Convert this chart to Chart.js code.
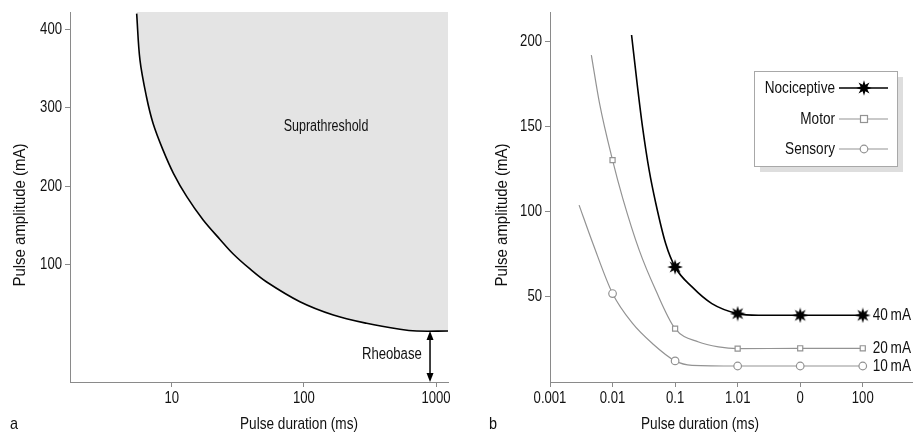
<!DOCTYPE html>
<html><head><meta charset="utf-8">
<script src="https://cdn.jsdelivr.net/npm/chart.js@4.4.1/dist/chart.umd.min.js"></script>
<style>
html,body{margin:0;padding:0;background:#fff;}
#wrap{position:relative;width:918px;height:436px;overflow:hidden;}
#ca{position:absolute;left:0;top:0;}
#cb{position:absolute;left:459px;top:0;}
</style></head><body>
<div id="wrap"><canvas id="ca" width="459" height="436"></canvas><canvas id="cb" width="459" height="436"></canvas></div>
<script>
// ---------- Panel a data ----------
const aDurations  = [5.43, 5.75, 6.44, 7.23, 8.60, 10.3, 13.0, 17.3, 23.2, 29.2, 39.1, 52.3, 93.3, 167, 298, 533, 713, 1236];
const aAmplitudes = [420, 361, 314, 280, 246, 216.5, 186.7, 157, 132.2, 113.7, 94.6, 78.0, 52.9, 36, 25.4, 17.7, 15.5, 15.5];
const aXTicks = [10, 100, 1000];
const aYTicks = [100, 200, 300, 400];
const aRheobaseX = 900;
const aRheobaseY = 15.5;

// ---------- Panel b data ----------
const bXLabels = ['0.001', '0.01', '0.1', '1.01', '0', '100'];
const bYTicks = [50, 100, 150, 200];
const seriesNames = ['Nociceptive', 'Motor', 'Sensory'];
const seriesEndLabels = ['40\u2009mA', '20\u2009mA', '10\u2009mA'];
const nociX = [1.304, 1.399, 1.479, 1.585, 1.691, 1.849, 2, 2.271, 2.588, 3, 3.33, 4, 5];
const nociY = [204, 173.5, 150, 124.5, 105.1, 81.4, 67.6, 55.9, 46.1, 40.2, 39.2, 39.2, 39.2];
const motorX = [0.661, 0.792, 1, 1.162, 1.426, 1.691, 2, 2.377, 2.694, 3, 4, 5];
const motorY = [192.2, 163.8, 130.4, 108.1, 77.5, 53.9, 31.4, 23.5, 20.6, 19.6, 19.8, 19.8];
const sensX = [0.465, 0.686, 1, 1.32, 1.637, 2, 2.271, 3, 4, 5];
const sensY = [104, 81.4, 52, 34.4, 22.6, 12.4, 9.8, 9.4, 9.4, 9.4];

const FONT = "'Liberation Sans', Arial, sans-serif";
const TXT = '#111';
const AXIS = '#8a8a8a';
const GRAY = '#939393';

function pts(xs, ys){ return xs.map((x,i)=>({x:x, y:ys[i]})); }

// narrow text helper (condensed Helvetica look)
function txt(ctx, s, x, y, size, align, sx){
  ctx.save();
  ctx.translate(x, y); ctx.scale(sx || 0.8, 1);
  ctx.font = size + 'px ' + FONT;
  ctx.fillStyle = TXT; ctx.textAlign = align || 'center'; ctx.textBaseline = 'middle';
  ctx.fillText(s, 0, 0);
  ctx.restore();
}
function vtxt(ctx, s, x, y, size, sx){
  ctx.save();
  ctx.translate(x, y); ctx.rotate(-Math.PI/2); ctx.scale(sx || 0.8, 1);
  ctx.font = size + 'px ' + FONT;
  ctx.fillStyle = TXT; ctx.textAlign = 'center'; ctx.textBaseline = 'middle';
  ctx.fillText(s, 0, 0);
  ctx.restore();
}

function makeStar(){
  const c = document.createElement('canvas'); c.width = 16; c.height = 16;
  const g = c.getContext('2d'); g.fillStyle = '#000'; g.beginPath();
  for (let i=0;i<16;i++){ const r = (i%2)?3.6:7.8; const a = Math.PI*i/8 - Math.PI/2; g.lineTo(8+r*Math.cos(a), 8+r*Math.sin(a)); }
  g.closePath(); g.fill(); return c;
}
const STAR = makeStar();

function axisCfg(){
  return {
    grid:{display:true, drawOnChartArea:false, drawTicks:true, tickLength:5, color:AXIS},
    border:{display:true, color:AXIS, width:1},
    ticks:{display:false, autoSkip:false}
  };
}

function drawTickLabels(chart, xLabelFn){
  const {ctx, scales:{x,y}, chartArea} = chart;
  x.ticks.forEach(t=>{
    txt(ctx, xLabelFn(t.value), x.getPixelForValue(t.value), chartArea.bottom + 17, 16, 'center', 0.82);
  });
  y.ticks.forEach(t=>{
    txt(ctx, String(t.value), chartArea.left - 8, y.getPixelForValue(t.value), 16, 'right', 0.82);
  });
}

// ---------- Panel a ----------
const aPlugin = {
  id:'aDeco',
  afterDatasetsDraw(chart){
    const {ctx, scales:{x,y}, chartArea} = chart;
    ctx.save();
    txt(ctx, 'Suprathreshold', x.getPixelForValue(147), y.getPixelForValue(276), 16, 'center', 0.78);
    txt(ctx, 'Rheobase', x.getPixelForValue(463), y.getPixelForValue(-15), 16, 'center', 0.82);
    // double arrow
    const ax = x.getPixelForValue(aRheobaseX);
    const y1 = y.getPixelForValue(aRheobaseY), y2 = chartArea.bottom;
    ctx.strokeStyle='#000'; ctx.lineWidth=1.5;
    ctx.beginPath(); ctx.moveTo(ax, y1+6); ctx.lineTo(ax, y2-6); ctx.stroke();
    ctx.fillStyle='#000';
    ctx.beginPath(); ctx.moveTo(ax, y1); ctx.lineTo(ax-3.5, y1+9); ctx.lineTo(ax+3.5, y1+9); ctx.closePath(); ctx.fill();
    ctx.beginPath(); ctx.moveTo(ax, y2); ctx.lineTo(ax-3.5, y2-9); ctx.lineTo(ax+3.5, y2-9); ctx.closePath(); ctx.fill();
    drawTickLabels(chart, v => String(v));
    txt(ctx, 'Pulse duration (ms)', chartArea.left + 229, 424, 17, 'center', 0.8);
    txt(ctx, 'a', 14, 424, 17, 'center', 0.85);
    vtxt(ctx, 'Pulse amplitude (mA)', 20, 215, 17, 0.88);
    ctx.restore();
  }
};

new Chart(document.getElementById('ca'), {
  type:'line',
  data:{ datasets:[{
    data: pts(aDurations, aAmplitudes),
    borderColor:'#000', borderWidth:1.6, pointRadius:0,
    fill:'end', backgroundColor:'#e4e4e4',
    tension:0.35
  }]},
  options:{
    responsive:false, animation:false,
    layout:{padding:{top:12, right:11, left:0, bottom:0}},
    plugins:{legend:{display:false}, tooltip:{enabled:false}},
    scales:{
      x: Object.assign(axisCfg(), {
        type:'logarithmic', min:1.70, max:1231,
        afterBuildTicks(s){ s.ticks = aXTicks.map(v=>({value:v})); },
        afterFit(s){ s.height = 54; }
      }),
      y: Object.assign(axisCfg(), {
        type:'linear', min:-49.4, max:422,
        afterBuildTicks(s){ s.ticks = aYTicks.map(v=>({value:v})); },
        afterFit(s){ s.width = 70; }
      })
    }
  },
  plugins:[aPlugin]
});

// ---------- Panel b ----------
const markerStyles = [STAR, 'rect', 'circle'];
const seriesColors = ['#000', GRAY, GRAY];
const bPlugin = {
  id:'bDeco',
  afterDatasetsDraw(chart){
    const {ctx, chartArea} = chart;
    ctx.save();
    // end labels
    chart.data.datasets.forEach((ds,i)=>{
      const meta = chart.getDatasetMeta(i);
      const el = meta.data[meta.data.length-1];
      txt(ctx, seriesEndLabels[i], el.x + 10, el.y, 17, 'left', 0.8);
    });
    // legend box
    const bx=295, by=71, bw=143, bh=95;
    ctx.fillStyle='#dedede'; ctx.fillRect(bx+6, by+6, bw, bh);
    ctx.fillStyle='#fff'; ctx.fillRect(bx, by, bw, bh);
    ctx.strokeStyle='#a8a8a8'; ctx.lineWidth=1; ctx.strokeRect(bx+0.5, by+0.5, bw, bh);
    const rows=[88, 119, 149];
    seriesNames.forEach((n,i)=>{
      const yy=rows[i];
      txt(ctx, n, 376, yy, 17, 'right', 0.8);
      ctx.strokeStyle=seriesColors[i]; ctx.lineWidth = i===0?1.6:1.2;
      ctx.beginPath(); ctx.moveTo(380, yy); ctx.lineTo(429, yy); ctx.stroke();
      const mx=405;
      if(i===0){ ctx.drawImage(STAR, mx-8, yy-8); }
      else if(i===1){ ctx.fillStyle='#fff'; ctx.fillRect(mx-3.5, yy-3.5, 7, 7); ctx.strokeRect(mx-3.5, yy-3.5, 7, 7); }
      else { ctx.fillStyle='#fff'; ctx.beginPath(); ctx.arc(mx, yy, 3.8, 0, Math.PI*2); ctx.fill(); ctx.stroke(); }
    });
    drawTickLabels(chart, v => bXLabels[v]);
    txt(ctx, 'Pulse duration (ms)', chartArea.left + 150, 424, 17, 'center', 0.8);
    txt(ctx, 'b', 34, 424, 17, 'center', 0.85);
    vtxt(ctx, 'Pulse amplitude (mA)', 43, 215, 17, 0.88);
    ctx.restore();
  }
};

function seriesDs(xs, ys, i, minMarkX){
  return {
    label: seriesNames[i],
    data: pts(xs, ys),
    borderColor: seriesColors[i], borderWidth: i===0?1.6:1.2,
    backgroundColor:'#fff',
    pointBackgroundColor: i===0 ? '#000' : '#fff',
    pointBorderColor: seriesColors[i],
    pointBorderWidth: 1.2,
    pointStyle: markerStyles[i],
    pointRadius: c => (Number.isInteger(c.raw.x) && c.raw.x >= minMarkX) ? (i===1?3.6:3.8) : 0,
    cubicInterpolationMode:'monotone',
    fill:false, order: 3-i
  };
}

new Chart(document.getElementById('cb'), {
  type:'line',
  data:{ datasets:[
    seriesDs(nociX, nociY, 0, 2),
    seriesDs(motorX, motorY, 1, 1),
    seriesDs(sensX, sensY, 2, 1)
  ]},
  options:{
    responsive:false, animation:false,
    layout:{padding:{top:12, right:1, left:0, bottom:0}},
    plugins:{legend:{display:false}, tooltip:{enabled:false}},
    scales:{
      x: Object.assign(axisCfg(), {
        type:'linear', min:0, max:5.8,
        afterBuildTicks(s){ s.ticks = bXLabels.map((l,i)=>({value:i})); },
        afterFit(s){ s.height = 54; }
      }),
      y: Object.assign(axisCfg(), {
        type:'linear', min:0, max:217.5,
        afterBuildTicks(s){ s.ticks = bYTicks.map(v=>({value:v})); },
        afterFit(s){ s.width = 91; }
      })
    }
  },
  plugins:[bPlugin]
});
</script>
</body></html>
